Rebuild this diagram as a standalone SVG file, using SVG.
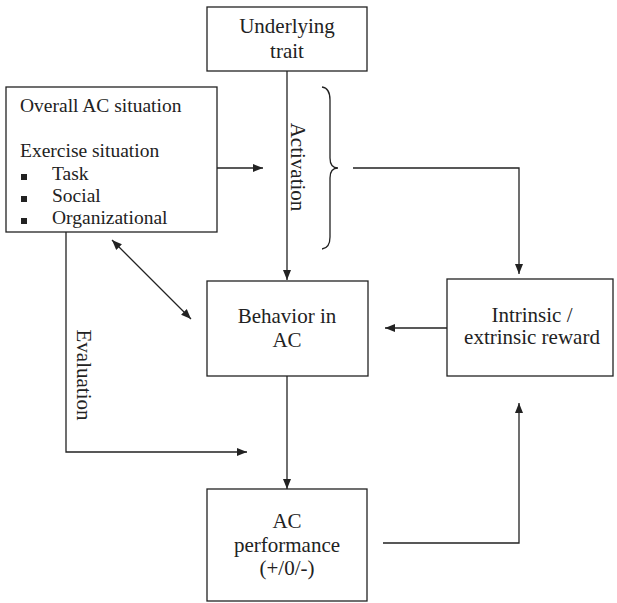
<svg xmlns="http://www.w3.org/2000/svg" width="617" height="603" viewBox="0 0 617 603">
<style>
.box{fill:#fff;stroke:#222;stroke-width:1.3}
.t{font-family:'Liberation Serif','DejaVu Serif',serif;font-size:21px;fill:#222}
.s{font-size:19.5px}
.c{text-anchor:middle}
.ln{fill:none;stroke:#222;stroke-width:1.3}
</style>
<defs>
<marker id="ah" viewBox="0 0 10 10" refX="10" refY="5" markerWidth="10" markerHeight="10" markerUnits="userSpaceOnUse" orient="auto-start-reverse">
<path d="M0,1 L10,5 L0,9 Z" fill="#222"/>
</marker>
</defs>
<rect width="617" height="603" fill="#fff"/>
<g id="connectors">
<line class="ln" x1="287" y1="71" x2="287" y2="280" marker-end="url(#ah)"/>
<line class="ln" x1="217" y1="168" x2="263" y2="168" marker-end="url(#ah)"/>
<path class="ln" d="M322,87 Q330,88 330,100 L330,158 Q330,168 338,168 Q330,168 330,178 L330,237 Q330,248 322,249"/>
<path class="ln" d="M353,168 H519 V274" marker-end="url(#ah)"/>
<line class="ln" x1="447" y1="328" x2="385" y2="328" marker-end="url(#ah)"/>
<line class="ln" x1="112" y1="240" x2="191" y2="319" marker-start="url(#ah)" marker-end="url(#ah)"/>
<path class="ln" d="M66,232 V452 H247" marker-end="url(#ah)"/>
<line class="ln" x1="287" y1="376" x2="287" y2="489" marker-end="url(#ah)"/>
<path class="ln" d="M383,543 H519 V403" marker-end="url(#ah)"/>
<text class="t c" transform="translate(291,167) rotate(90)">Activation</text>
<text class="t c" transform="translate(77,375) rotate(90)">Evaluation</text>
</g>
<g id="trait">
<rect class="box" x="207" y="7" width="160" height="64"/>
<text class="t c" x="287" y="33">Underlying</text>
<text class="t c" x="287" y="58">trait</text>
</g>
<g id="situation">
<rect class="box" x="6" y="87" width="211" height="145"/>
<text class="t s" x="20" y="112">Overall AC situation</text>
<text class="t s" x="20" y="157">Exercise situation</text>
<rect x="21" y="174" width="6" height="6" fill="#222"/>
<rect x="21" y="196" width="6" height="6" fill="#222"/>
<rect x="21" y="218" width="6" height="6" fill="#222"/>
<text class="t s" x="52" y="180">Task</text>
<text class="t s" x="52" y="202">Social</text>
<text class="t s" x="52" y="224">Organizational</text>
</g>
<g id="behavior">
<rect class="box" x="207" y="281" width="161" height="95"/>
<text class="t c" x="287" y="323">Behavior in</text>
<text class="t c" x="287" y="347">AC</text>
</g>
<g id="reward">
<rect class="box" x="447" y="279" width="166" height="97"/>
<text class="t c" x="532" y="322">Intrinsic /</text>
<text class="t c" x="532" y="344">extrinsic reward</text>
</g>
<g id="performance">
<rect class="box" x="207" y="489" width="160" height="112"/>
<text class="t c" x="287" y="528">AC</text>
<text class="t c" x="287" y="552">performance</text>
<text class="t c" x="287" y="575">(+/0/-)</text>
</g>
</svg>
